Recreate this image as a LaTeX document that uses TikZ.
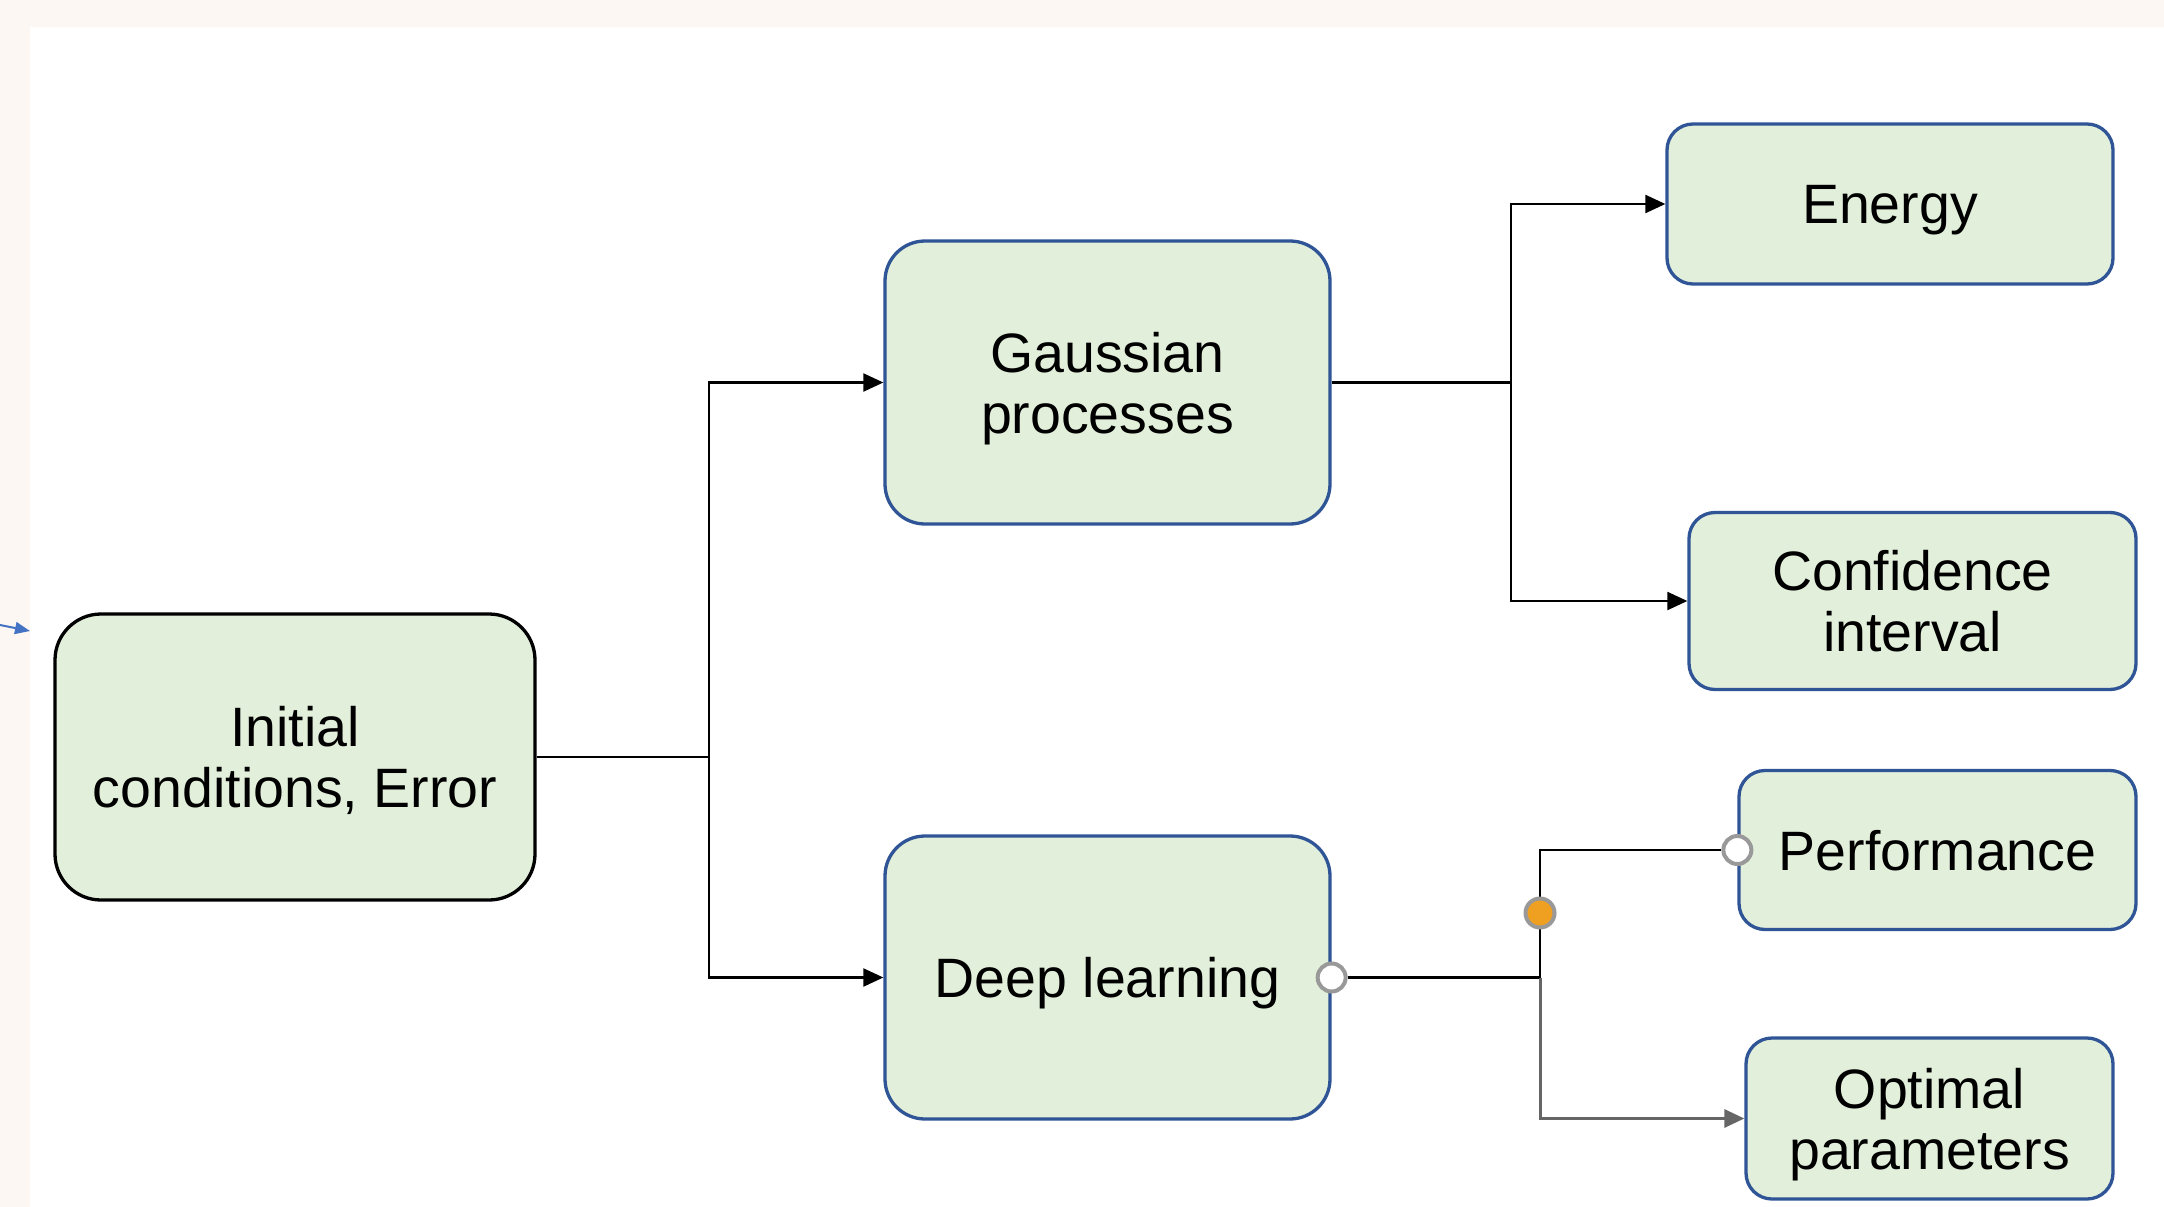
\documentclass[tikz,border=0pt]{standalone}
\usepackage{fontspec}
\setmainfont{Liberation Sans}
\usetikzlibrary{arrows.meta}
\definecolor{boxfill}{HTML}{E2EFDA}
\definecolor{boxline}{HTML}{2F5597}
\definecolor{pagetint}{HTML}{FCF7F2}
\definecolor{portgray}{HTML}{999999}
\definecolor{dotorange}{HTML}{F0A020}
\definecolor{inblue}{HTML}{4472C4}
\tikzset{
  box/.style={draw=boxline, line width=3.3pt, fill=boxfill, rounded corners=40pt,
    align=center, inner sep=0pt, font=\fontsize{55.5}{61}\selectfont,
    text depth=-8pt},
  smallbox/.style={box, rounded corners=26pt},
  conn/.style={line width=2.2pt, draw=black},
  arr/.style={conn, -{Triangle[length=20pt,width=18pt]}},
  port/.style={circle, draw=portgray, line width=4pt, fill=white, minimum size=28pt, inner sep=0pt},
  junctiondot/.style={circle, draw=portgray, line width=4pt, fill=dotorange, minimum size=29pt, inner sep=0pt}
}
\begin{document}
\begin{tikzpicture}[x=1pt,y=-1pt]
  % page background and margins
  \fill[pagetint] (0,0) rectangle (2164,1207);
  \fill[white] (30,27) rectangle (2164,1207);
  \useasboundingbox (0,0) rectangle (2164,1207);

  % boxes
  \node[box, draw=black, rounded corners=46pt, minimum width=480pt, minimum height=286pt]
    (init) at (295,757) {Initial\\conditions, Error};
  \node[box, minimum width=445pt, minimum height=283pt] (gp) at (1107.5,382.5) {Gaussian\\processes};
  \node[box, minimum width=445pt, minimum height=283pt] (dl) at (1107.5,977.5) {Deep learning};
  \node[smallbox, minimum width=446pt, minimum height=160pt] (en) at (1890,204) {Energy};
  \node[smallbox, minimum width=447pt, minimum height=177pt] (ci) at (1912.5,601) {Confidence\\interval};
  \node[smallbox, minimum width=397pt, minimum height=159pt] (pf) at (1937.5,850) {Performance};
  \node[smallbox, minimum width=367pt, minimum height=161pt] (op) at (1929.5,1118.5) {Optimal\\parameters};

  % incoming arrow at the left edge
  \coordinate (inl) at (0,625);
  \coordinate (inr) at (30,631);
  \draw[inblue, line width=2pt, -{Triangle[length=15pt,width=12pt]}] (inl) -- (inr);

  % branch from the initial box
  \coordinate (j1) at (709,757);
  \draw[conn, line width=2.6pt] (init.east) -- (j1);
  \draw[arr] (j1) |- (gp.west);
  \draw[arr] (j1) |- (dl.west);

  % branch from Gaussian processes
  \coordinate (j2) at (1511,382.5);
  \draw[conn, line width=2.6pt] (gp.east) -- (j2);
  \draw[arr] (j2) |- (en.west);
  \draw[arr] (j2) |- (ci.west);

  % branch from deep learning
  \node[port] (dlp) at (dl.east) {};
  \node[port] (pfp) at (pf.west) {};
  \coordinate (j3) at (1540,977.5);
  \draw[conn, line width=2.6pt] (dlp) -- (j3);
  \draw[conn] (j3) |- (pfp);
  \draw[arr, draw=black!60, line width=3pt] (j3) |- (op.west);
  \node[junctiondot] (jd) at (1540,913) {};
\end{tikzpicture}
\end{document}
